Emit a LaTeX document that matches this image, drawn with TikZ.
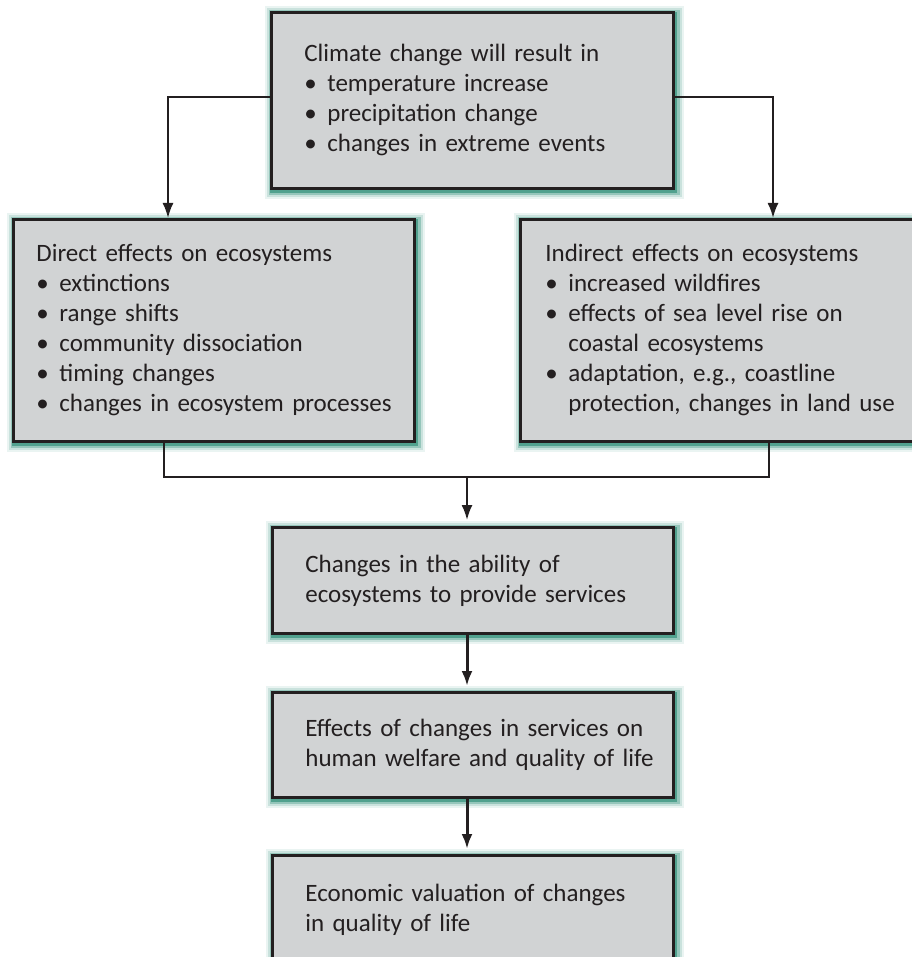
\documentclass[tikz,border=0pt]{standalone}
\usepackage{fontspec}
\setmainfont{Carlito}
\usepackage{tikz}
\usetikzlibrary{calc,shapes,arrows.meta}

\definecolor{boxgray}{RGB}{209,211,212}
\definecolor{inkdark}{RGB}{35,31,32}
\definecolor{glowteal}{RGB}{52,146,124}

\newcommand{\itm}[1]{\mbox{\makebox[23pt][l]{\textbullet}#1}}
\newcommand{\cnt}[1]{\mbox{\hspace*{23pt}#1}}

\tikzset{
  glow/.style={
    preaction={draw=glowteal, line width=17pt, draw opacity=0.10, transform canvas={shift={(2pt,-2.5pt)}}},
    preaction={draw=glowteal, line width=13pt, draw opacity=0.18, transform canvas={shift={(2pt,-2.5pt)}}},
    preaction={draw=glowteal, line width=9pt, draw opacity=0.35, transform canvas={shift={(2pt,-2.5pt)}}},
    preaction={draw=glowteal, line width=5pt, draw opacity=0.7, transform canvas={shift={(1.5pt,-2pt)}}}},
  box/.style={glow, rectangle, draw=inkdark, line width=2.8pt, fill=boxgray, text=inkdark,
    anchor=north west, align=left, inner ysep=0pt, font=\fontsize{25pt}{30pt}\selectfont},
  link/.style={draw=inkdark, line width=2pt},
  flow/.style={-{Latex[length=15pt,width=11pt]}}
}

\begin{document}
\begin{tikzpicture}[x=1pt,y=1pt]
    \useasboundingbox (0,0) rectangle (911,-957);
    % top and the two effect boxes
    \node[box, minimum width=402pt, minimum height=176pt, inner xsep=33pt, text width=336pt] (climate) at (270,-11)
        {Climate change will result in\\ \itm{temperature increase}\\ \itm{precipitation change}\\ \itm{changes in extreme events}};
    \node[box, minimum width=401pt, minimum height=222pt, inner xsep=23pt, text width=355pt] (direct) at (12,-218)
        {Direct effects on ecosystems\\ \itm{extinctions}\\ \itm{range shifts}\\ \itm{community dissociation}\\ \itm{timing changes}\\ \itm{changes in ecosystem processes}};
    \node[box, minimum width=401pt, minimum height=222pt, inner xsep=25pt, text width=351pt] (indirect) at (519,-218)
        {Indirect effects on ecosystems\\ \itm{increased wildfires}\\ \itm{effects of sea level rise on}\\ \cnt{coastal ecosystems}\\ \itm{adaptation, e.g., coastline}\\ \cnt{protection, changes in land use}};
    % chain below
    \node[box, minimum width=401pt, minimum height=106pt, inner xsep=33pt, text width=335pt] (ability) at (271,-526)
        {\mbox{Changes in the ability of}\\ \mbox{ecosystems to provide services}};
    \node[box, minimum width=401pt, minimum height=105pt, inner xsep=33pt, text width=335pt] (welfare) at (271,-691)
        {\mbox{Effects of changes in services on}\\ \mbox{human welfare and quality of life}};
    \node[box, minimum width=401pt, minimum height=108pt, inner xsep=33pt, text width=335pt] (valuation) at (271,-854)
        {\mbox{Economic valuation of changes}\\ \mbox{in quality of life}};
    % connectors
    \coordinate (join) at (467,-477);
    \draw[link, flow] ([yshift=3pt]climate.west) -| ([xshift=156pt]direct.north west);
    \draw[link, flow] ([yshift=3pt]climate.east) -| ([xshift=254pt]indirect.north west);
    \draw[link] ([xshift=152pt]direct.south west) |- (join) -| ([xshift=250pt]indirect.south west);
    \draw[link, flow, shorten >=6pt] (join) -- (join |- ability.north);
    \foreach \a/\b in {ability/welfare, welfare/valuation}
    \draw[link, flow, line width=3pt, shorten >=5pt] (\a.south -| join) -- (join |- \b.north);
\end{tikzpicture}
\end{document}
